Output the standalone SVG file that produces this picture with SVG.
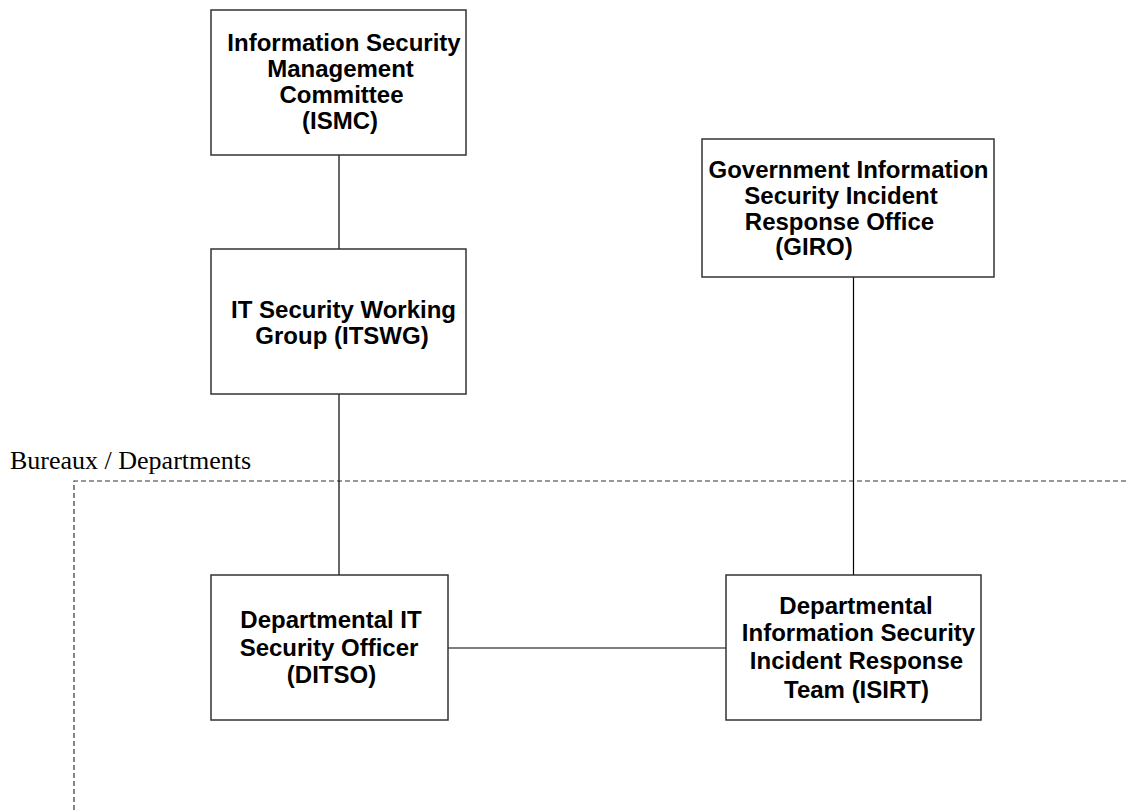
<svg xmlns="http://www.w3.org/2000/svg" width="1126" height="810" viewBox="0 0 1126 810">
<style>
.box{fill:#fff;stroke:#333;stroke-width:1.5}
.lbl{font-family:"Liberation Sans",Arial,sans-serif;font-weight:bold;font-size:24px;fill:#000;text-anchor:middle}
.conn{stroke:#000;stroke-width:1.2;fill:none}
.dash{stroke:#333;stroke-width:1.2;fill:none;stroke-dasharray:5 3}
.area{font-family:"Liberation Serif","Times New Roman",serif;font-size:26px;fill:#000}
</style>
<rect width="1126" height="810" fill="#fff"/>
<g id="boundary">
<path class="dash" d="M74,810 V481 H1126"/>
<text class="area" x="10" y="469">Bureaux / Departments</text>
</g>
<g id="connectors">
<line class="conn" x1="339" y1="155" x2="339" y2="250"/>
<line class="conn" x1="339" y1="394" x2="339" y2="575"/>
<line class="conn" x1="853.5" y1="277" x2="853.5" y2="575"/>
<line class="conn" x1="448" y1="648" x2="726" y2="648"/>
</g>
<g id="ismc">
<rect class="box" x="211" y="10" width="255" height="145"/>
<text class="lbl"><tspan x="344" y="51">Information Security</tspan><tspan x="340.5" y="77">Management</tspan><tspan x="341.5" y="103">Committee</tspan><tspan x="340" y="129">(ISMC)</tspan></text>
</g>
<g id="itswg">
<rect class="box" x="211" y="249" width="255" height="145"/>
<text class="lbl"><tspan x="343.5" y="318">IT Security Working</tspan><tspan x="342" y="344">Group (ITSWG)</tspan></text>
</g>
<g id="giro">
<rect class="box" x="702" y="139" width="292" height="138"/>
<text class="lbl"><tspan x="848.5" y="178">Government Information</tspan><tspan x="841" y="204">Security Incident</tspan><tspan x="839.5" y="230">Response Office</tspan><tspan x="814" y="255">(GIRO)</tspan></text>
</g>
<g id="ditso">
<rect class="box" x="211" y="575" width="237" height="145"/>
<text class="lbl"><tspan x="331" y="628">Departmental IT</tspan><tspan x="329" y="656">Security Officer</tspan><tspan x="331.5" y="683">(DITSO)</tspan></text>
</g>
<g id="isirt">
<rect class="box" x="726" y="575" width="255" height="145"/>
<text class="lbl"><tspan x="856" y="614">Departmental</tspan><tspan x="858.5" y="641">Information Security</tspan><tspan x="856.5" y="669">Incident Response</tspan><tspan x="856.5" y="698">Team (ISIRT)</tspan></text>
</g>
</svg>
